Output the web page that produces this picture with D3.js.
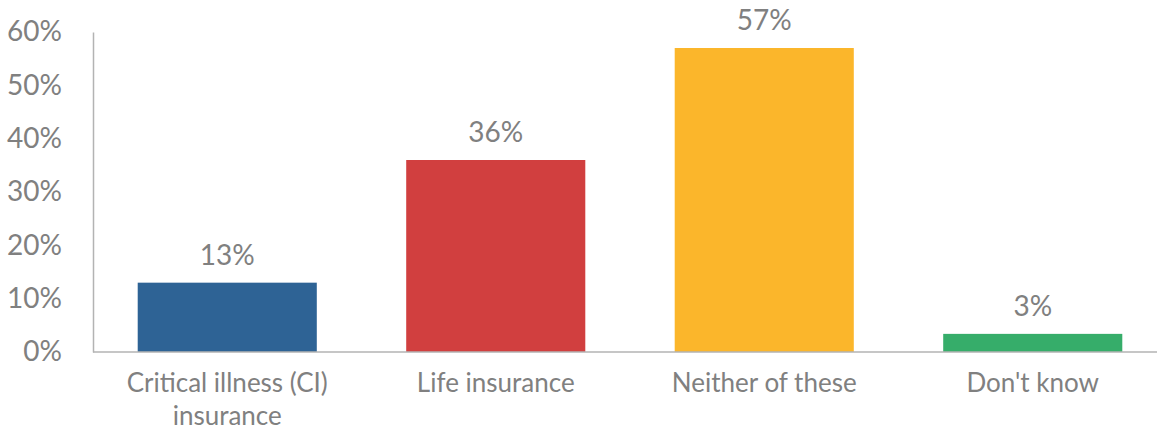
<!DOCTYPE html>
<html>
<head>
<meta charset="utf-8">
<script src="https://cdn.jsdelivr.net/npm/d3@7"></script>
<style>
  body { margin: 0; background: #fff; }
  text { font-family: Lato, "Open Sans", sans-serif; fill: #808080; }
</style>
</head>
<body>
<div id="container"></div>
<script>
const categories = [["Critical illness (CI)", "insurance"], ["Life insurance"], ["Neither of these"], ["Don't know"]];
const values = [13, 36, 57, 3.4];
const barColors = ["#2e6395", "#d13f3f", "#fbb62b", "#36ad6a"];
const yTicks = [0, 10, 20, 30, 40, 50, 60];

const width = 1157, height = 428;
const margin = { top: 32, right: -10, bottom: 76, left: 93 };

const svg = d3.select("#container")
    .append("svg")
        .attr("width", width)
        .attr("height", height);

const x = d3.scaleBand()
    .domain(d3.range(categories.length))
    .range([margin.left, width - margin.right])
    .paddingInner(0.333)
    .paddingOuter(0.1665);

const y = d3.scaleLinear()
    .domain([0, 60])
    .range([height - margin.bottom, margin.top]);

// y axis
const yAxis = svg.append("g")
    .attr("transform", "translate(" + margin.left + ",0)")
    .call(d3.axisLeft(y).tickValues(yTicks).tickSize(0).tickPadding(31).tickFormat(d => d + "%"));
yAxis.select(".domain").attr("stroke", "#b3b3b3").attr("stroke-width", 1.5);
yAxis.selectAll("text").style("font-size", "28px").attr("fill", "#808080");

// bars
svg.selectAll("rect.bar")
    .data(values)
    .enter().append("rect")
    .attr("class", "bar")
    .attr("x", (d, i) => x(i))
    .attr("y", d => y(d))
    .attr("width", x.bandwidth())
    .attr("height", d => y(0) - y(d))
    .attr("fill", (d, i) => barColors[i]);

// baseline
svg.append("line")
    .attr("x1", margin.left)
    .attr("x2", width)
    .attr("y1", y(0))
    .attr("y2", y(0))
    .attr("stroke", "#b3b3b3")
    .attr("stroke-width", 1.5);

// value labels
svg.selectAll("text.val")
    .data(values)
    .enter().append("text")
    .attr("class", "val")
    .attr("x", (d, i) => x(i) + x.bandwidth() / 2)
    .attr("y", d => y(d) - 18)
    .attr("text-anchor", "middle")
    .style("font-size", "28px")
    .text(d => Math.round(d) + "%");

// category labels
const cat = svg.selectAll("text.cat")
    .data(categories)
    .enter().append("text")
    .attr("class", "cat")
    .attr("text-anchor", "middle")
    .attr("x", (d, i) => x(i) + x.bandwidth() / 2)
    .attr("y", y(0) + 40)
    .style("font-size", "26px");
cat.selectAll("tspan")
    .data(d => d)
    .enter().append("tspan")
    .attr("x", function() { return this.parentNode.getAttribute("x"); })
    .attr("dy", (d, i) => i === 0 ? 0 : 33)
    .text(d => d);
</script>
</body>
</html>
